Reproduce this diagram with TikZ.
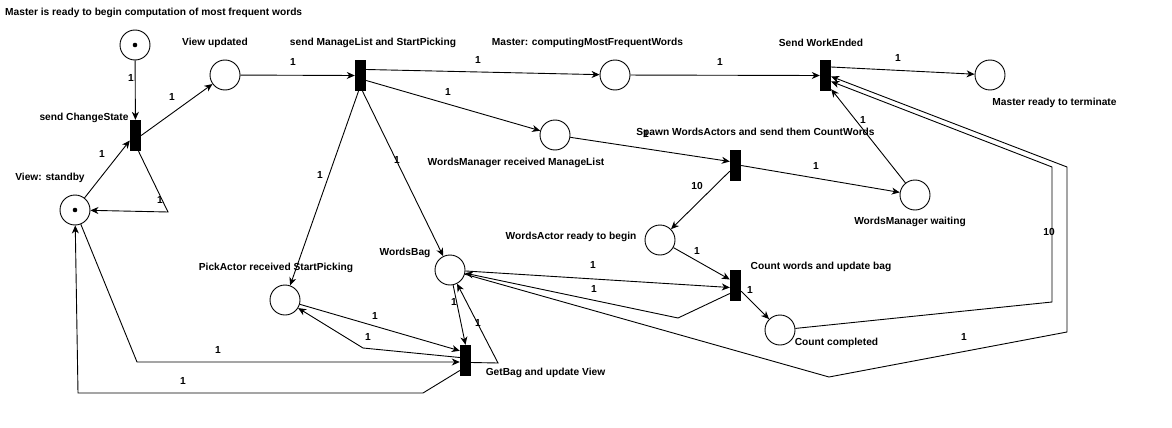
\documentclass[tikz,border=0pt]{standalone}
\usepackage{fontspec}
\setmainfont{Liberation Sans}
\usetikzlibrary{arrows.meta}
\begin{document}
\begin{tikzpicture}[x=1pt,y=-1pt,
  place/.style={draw,circle,minimum size=30pt,inner sep=0pt,line width=0.9pt},
  token/.style={circle,fill=black,minimum size=4.6pt,inner sep=0pt},
  trans/.style={fill=black,draw=none,minimum width=11pt,minimum height=31pt,inner sep=0pt},
  arc/.style={draw,line width=0.9pt,-{Stealth[length=8pt,width=7pt,inset=2.5pt]}},
  lbl/.style={font=\bfseries\fontsize{10.2}{12}\selectfont,inner sep=0pt},
  wt/.style={font=\bfseries\fontsize{10.2}{12}\selectfont,inner sep=0pt}]
\fill[white] (0,0) rectangle (1172,428);
\useasboundingbox (0,0) rectangle (1172,428);

% places
\node[place] (p0) at (135,45) {};
\node[token] (k0) at (p0) {};
\node[place] (vu) at (225,75) {};
\node[place] (sb) at (75,210) {};
\node[token] (k1) at (sb) {};
\node[place] (mc) at (615,75) {};
\node[place] (wmr) at (555,135) {};
\node[place] (wa) at (660,240) {};
\node[place] (mrt) at (990,75) {};
\node[place] (wmw) at (915,195) {};
\node[place] (wb) at (450,270) {};
\node[place] (cc) at (780,330) {};
\node[place] (pa) at (285,300) {};

% transitions
\node[trans] (tcs) at (135.5,135.5) {};
\node[trans] (tms) at (360.5,75.5) {};
\node[trans] (tsp) at (735.5,165.5) {};
\node[trans] (tswe) at (825.5,75.5) {};
\node[trans] (tc) at (735.5,285.5) {};
\node[trans] (tgb) at (465.5,360.5) {};

% labels
\node[lbl,anchor=west] (l0) at (5,13) {Master is ready to begin computation of most frequent words};
\node[lbl] (l1) at (215,43) {View updated};
\node[lbl] (l2) at (84,118) {send ChangeState};
\node[lbl] (l3) at (50,178) {View: standby};
\node[lbl] (l4) at (373,43) {send ManageList and StartPicking};
\node[lbl] (l5) at (587.5,43) {Master: computingMostFrequentWords};
\node[lbl] (l6) at (821,43) {Send WorkEnded};
\node[lbl] (l7) at (1054.5,103) {Master ready to terminate};
\node[lbl] (l8) at (516,163) {WordsManager received ManageList};
\node[lbl] (l9) at (755.5,133) {Spawn WordsActors and send them CountWords};
\node[lbl] (l10) at (910,222) {WordsManager waiting};
\node[lbl] (l11) at (571,237) {WordsActor ready to begin};
\node[lbl] (l12) at (821,267) {Count words and update bag};
\node[lbl] (l13) at (836.5,343) {Count completed};
\node[lbl] (l14) at (405,253) {WordsBag};
\node[lbl] (l15) at (276,268) {PickActor received StartPicking};
\node[lbl] (l16) at (545.5,373) {GetBag and update View};

% bend points
\coordinate (c1) at (168,212);
\coordinate (c2) at (678,318);
\coordinate (c3) at (1052,302);
\coordinate (c4) at (1052,167);
\coordinate (c5) at (829,377);
\coordinate (c6) at (1067,332);
\coordinate (c7) at (1067,167);
\coordinate (c8) at (498,363);
\coordinate (c9) at (363,348);
\coordinate (c10) at (137,362);
\coordinate (c11) at (423,393);
\coordinate (c12) at (78,393);

% arcs
\draw[arc] (p0) -- (tcs);
\draw[arc] (tcs.east) -- (vu);
\draw[arc] (sb) -- ([yshift=-5pt]tcs.west);
\draw[arc] ([xshift=3pt]tcs.south) -- (c1) -- (sb);
\draw[arc] (vu) -- (tms.west);
\draw[arc] ([yshift=6pt]tms.east) -- (mc);
\draw[arc] ([yshift=-5pt]tms.east) -- (wmr);
\draw[arc] ([xshift=-2pt]tms.south) -- (pa);
\draw[arc] ([xshift=2pt]tms.south) -- (wb);
\draw[arc] (mc) -- (tswe.west);
\draw[arc] ([yshift=8.5pt]tswe.east) -- (mrt);
\draw[arc] (wmw) -- ([yshift=2pt]tswe.south east);
\draw[arc] (wmr) -- ([yshift=4pt]tsp.west);
\draw[arc] (tsp.east) -- (wmw);
\draw[arc] (tsp) -- (wa);
\draw[arc] (wa) -- ([yshift=6pt]tc.west);
\draw[arc] (wb) -- ([yshift=-2pt]tc.west);
\draw[arc] ([yshift=-8pt]tc.west) -- (c2) -- (wb);
\draw[arc] (tc) -- (cc);
\draw[arc] (cc) -- (c3) -- (c4) -- ([yshift=-6pt]tswe.east);
\draw[arc] (wb) -- (c5) -- (c6) -- (c7) -- ([yshift=-1pt]tswe.east);
\draw[arc] (wb) -- (tgb.north);
\draw[arc] ([yshift=-2pt]tgb.east) -- (c8) -- (wb);
\draw[arc] (pa) -- ([yshift=-6pt]tgb.north west);
\draw[arc] ([yshift=3pt]tgb.west) -- (c9) -- (pa);
\draw[arc] (sb) -- (c10) -- ([yshift=-1.5pt]tgb.west);
\draw[arc] ([yshift=-10pt]tgb.west) -- (c11) -- (c12) -- (sb);

% weights
\node[wt] (w1) at (131,78) {1};
\node[wt] (w2) at (172,97) {1};
\node[wt] (w3) at (102,154) {1};
\node[wt] (w4) at (160,200) {1};
\node[wt] (w5) at (293,62) {1};
\node[wt] (w6) at (478,60) {1};
\node[wt] (w7) at (448,92) {1};
\node[wt] (w8) at (320,175) {1};
\node[wt] (w9) at (397,160) {1};
\node[wt] (w10) at (720,62) {1};
\node[wt] (w11) at (898,58) {1};
\node[wt] (w12) at (863,120) {1};
\node[wt] (w13) at (646,134) {1};
\node[wt] (w14) at (816,166) {1};
\node[wt] (w15) at (697,186) {10};
\node[wt] (w16) at (697,251) {1};
\node[wt] (w17) at (593,265) {1};
\node[wt] (w18) at (594,289) {1};
\node[wt] (w19) at (750,290) {1};
\node[wt] (w20) at (1049,232) {10};
\node[wt] (w21) at (964,337) {1};
\node[wt] (w22) at (454,302) {1};
\node[wt] (w23) at (478,323) {1};
\node[wt] (w24) at (375,316) {1};
\node[wt] (w25) at (368,337) {1};
\node[wt] (w26) at (218,350) {1};
\node[wt] (w27) at (183,381) {1};
\end{tikzpicture}
\end{document}
